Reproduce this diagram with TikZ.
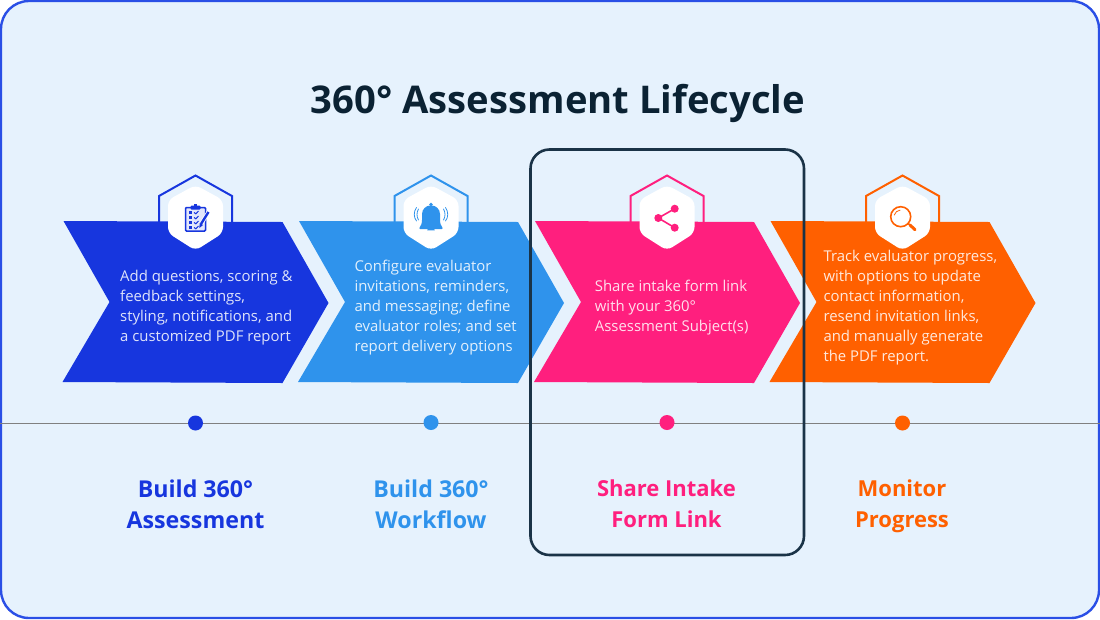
\documentclass[tikz,border=0pt]{standalone}
\usepackage{fontspec}
\setmainfont{Open Sans}
\definecolor{cA}{HTML}{1736DE}
\definecolor{cB}{HTML}{2F93EC}
\definecolor{cC}{HTML}{FF1F7E}
\definecolor{cD}{HTML}{FF6000}
\definecolor{pagebg}{HTML}{E6F2FD}
\definecolor{frameblue}{HTML}{2A4FE6}
\definecolor{ink}{HTML}{0B2233}
\definecolor{boxink}{HTML}{1A3347}
\tikzset{
  bodytext/.style={anchor=west,align=left,inner sep=0pt,text=white,text opacity=.86,font=\fontsize{14.9}{20}\selectfont},
  steplabel/.style={anchor=center,align=center,inner sep=0pt,font=\fontsize{23.2}{31}\selectfont\bfseries},
  steplabelsmall/.style={anchor=center,align=center,inner sep=0pt,font=\fontsize{22}{31}\selectfont\bfseries},
  stepdot/.style={circle,minimum size=15pt,inner sep=0pt},
}
\newcommand{\stagebase}[2]{%
  \begin{scope}[xshift=#1pt]
    \draw[#2,line width=2pt] (-36.5,222) -- (-36.5,196) -- (0,175.5) -- (36.5,196) -- (36.5,222);
    \fill[#2] (-132,221) -- (87,222) -- (133,303) -- (87,383) -- (-133,382) -- (-86,302) -- cycle;
    \fill[white,rounded corners=6pt] (0,185) -- (27.5,200) -- (27.5,233) -- (0,250.5) -- (-27.5,233) -- (-27.5,200) -- cycle;
  \end{scope}}
\begin{document}
\begin{tikzpicture}[x=1pt,y=-1pt]
\useasboundingbox (0,0) rectangle (1100,619);
\fill[white] (0,0) rectangle (1100,619);
\draw[frameblue,fill=pagebg,line width=2.4pt,rounded corners=28pt] (1,1) rectangle (1099,618);

\node[anchor=center,inner sep=0pt,text=ink,font=\fontsize{38.2}{44}\selectfont\bfseries] (title) at (558,103) {360° Assessment Lifecycle};

\stagebase{195.5}{cA}
\stagebase{431}{cB}
\stagebase{667}{cC}
\stagebase{902.5}{cD}

% clipboard icon
\begin{scope}[xshift=195.5pt]
  \draw[cA,line width=1.5pt,fill=cA!12,rounded corners=1pt] (-10,207.5) rectangle (10,231);
  \fill[cA,rounded corners=1pt] (-5,205.5) rectangle (5,209.5);
  \fill[cA] (-1.5,204) rectangle (1.5,206);
  \foreach \yy in {212.5,217.5,222.5,227.5}{
    \fill[cA] (-7,\yy-1.6) rectangle (-3.8,\yy+1.6);
    \draw[cA,line width=1pt] (-1.5,\yy) -- (0.3,\yy+1.3) -- (3,\yy-1.5);
  }
  \draw[white,line width=4pt] (13,212) -- (5,225);
  \draw[cA,line width=2.4pt] (13,212) -- (5.5,224);
  \fill[cA] (3.8,228) -- (4.2,223) -- (7.6,225) -- cycle;
\end{scope}

% bell icon
\begin{scope}[xshift=431pt]
  \fill[cB] (0,204.5) circle (1.8);
  \fill[cB,rounded corners=1pt] (-11.5,229.2) .. controls (-12,227) and (-9.5,226) .. (-9,221)
    -- (-9,215) .. controls (-9,209) and (-4.5,205.5) .. (0,205.5)
    .. controls (4.5,205.5) and (9,209) .. (9,215) -- (9,221)
    .. controls (9.5,226) and (12,227) .. (11.5,229.2) -- cycle;
  \fill[cB] (-3.8,230.4) arc[start angle=180,end angle=360,radius=3.8] -- cycle;
  \draw[cB,line width=.8pt,line cap=round] (-12.5,209) .. controls (-14.5,212.5) and (-14.5,216.5) .. (-12.5,220);
  \draw[cB,line width=.8pt,line cap=round] (-14.5,207.5) .. controls (-17.5,212) and (-17.5,217) .. (-14.5,221);
  \draw[cB,line width=.8pt,line cap=round] (12.5,209) .. controls (14.5,212.5) and (14.5,216.5) .. (12.5,220);
  \draw[cB,line width=.8pt,line cap=round] (14.5,207.5) .. controls (17.5,212) and (17.5,217) .. (14.5,221);
\end{scope}

% share icon
\begin{scope}[xshift=667pt]
  \draw[cC,line width=1.6pt] (7.7,208.7) -- (-8.7,218) -- (7.7,227.7);
  \fill[cC] (7.7,208.7) circle (4);
  \fill[cC] (-8.7,218) circle (4);
  \fill[cC] (7.7,227.7) circle (4);
\end{scope}

% magnifier icon
\begin{scope}[xshift=902.5pt]
  \draw[cD,line width=1.6pt] (-1.8,216.7) circle (10);
  \draw[cD,line width=.8pt,line cap=round] (-8.2,215) arc[start angle=195,end angle=265,radius=6.6];
  \draw[cD,line width=1.6pt] (5.6,223.4) -- (8,225.5);
  \draw[cD,line width=3pt,line cap=round] (7.5,225) -- (12.5,229.7);
\end{scope}

\node[bodytext] (textA) at (120,308) {Add questions, scoring \&\\feedback settings,\\styling, notifications, and\\a customized PDF report};
\node[bodytext] (textB) at (354.3,308) {Configure evaluator\\invitations, reminders,\\and messaging; define\\evaluator roles; and set\\report delivery options};
\node[bodytext] (textC) at (594.7,308) {Share intake form link\\with your 360°\\Assessment Subject(s)};
\node[bodytext] (textD) at (823.3,308) {Track evaluator progress,\\with options to update\\contact information,\\resend invitation links,\\and manually generate\\the PDF report.};

\coordinate (lineL) at (0,423);
\coordinate (lineR) at (1100,423);
\draw[black!50,line width=.9pt] (lineL) -- (lineR);

\node[stepdot,fill=cA] (dotA) at (195.5,423) {};
\node[stepdot,fill=cB] (dotB) at (431,422.5) {};
\node[stepdot,fill=cC] (dotC) at (667,422.5) {};
\node[stepdot,fill=cD] (dotD) at (902.5,423) {};

\node[steplabel,text=cA] (labelA) at (195.5,504) {Build 360°\\Assessment};
\node[steplabel,text=cB] (labelB) at (431,504) {Build 360°\\Workflow};
\node[steplabelsmall,text=cC] (labelC) at (666.5,504) {Share Intake\\Form Link};
\node[steplabelsmall,text=cD] (labelD) at (902,506) {Monitor\\Progress};

\draw[boxink,line width=2.6pt,rounded corners=19pt] (530.5,149.5) rectangle (804,555);
\end{tikzpicture}
\end{document}
